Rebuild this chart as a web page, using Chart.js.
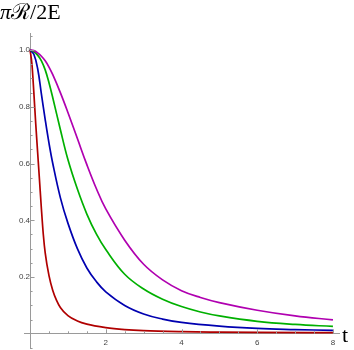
<!DOCTYPE html>
<html>
<head>
<meta charset="utf-8">
<script src="https://cdn.jsdelivr.net/npm/chart.js@4.4.1/dist/chart.umd.min.js"></script>
<style>
  html, body { margin: 0; padding: 0; background: #fff; }
  #wrap { width: 354px; height: 350px; position: relative; }
</style>
</head>
<body>
<div id="wrap"><canvas id="c" width="354" height="350"></canvas></div>
<script>
// ---- data ----
const purpleT = [0, 0.1, 0.2, 0.3, 0.4, 0.5, 0.6, 0.8, 1.0, 1.25, 1.5, 1.75, 2.0, 2.5, 3.0, 3.5, 4.0, 4.5, 5.0, 6.0, 7.0, 8.0];
const purpleV = [1, 0.998, 0.99, 0.978, 0.962, 0.94, 0.913, 0.85, 0.78, 0.688, 0.596, 0.512, 0.44, 0.33, 0.245, 0.19, 0.152, 0.128, 0.11, 0.083, 0.063, 0.049];

const greenT = [0, 0.1, 0.2, 0.3, 0.4, 0.5, 0.6, 0.8, 1.0, 1.25, 1.5, 1.75, 2.0, 2.5, 3.0, 3.5, 4.0, 4.5, 5.0, 6.0, 7.0, 8.0];
const greenV = [1, 0.995, 0.982, 0.962, 0.93, 0.885, 0.832, 0.72, 0.614, 0.51, 0.422, 0.352, 0.297, 0.21, 0.158, 0.122, 0.096, 0.077, 0.063, 0.044, 0.033, 0.026];

const blueT = [0, 0.1, 0.2, 0.3, 0.4, 0.5, 0.6, 0.8, 1.0, 1.25, 1.5, 1.75, 2.0, 2.5, 3.0, 3.5, 4.0, 5.0, 6.0, 7.0, 8.0];
const blueV = [1, 0.985, 0.935, 0.845, 0.755, 0.672, 0.6, 0.48, 0.39, 0.3, 0.232, 0.184, 0.148, 0.1, 0.07, 0.052, 0.04, 0.027, 0.019, 0.015, 0.012];

const redT = [0, 0.05, 0.1, 0.15, 0.2, 0.25, 0.3, 0.35, 0.4, 0.5, 0.6, 0.7, 0.8, 1.0, 1.25, 1.5, 2.0, 2.5, 3.0, 4.0, 5.0, 6.0, 8.0];
const redV = [1, 0.95, 0.85, 0.74, 0.64, 0.54, 0.44, 0.35, 0.285, 0.205, 0.153, 0.118, 0.093, 0.064, 0.045, 0.034, 0.022, 0.015, 0.011, 0.0075, 0.006, 0.005, 0.004];

const xMajorTicks = [2, 4, 6, 8];
const xMinorTicks = [0.5, 1, 1.5, 2.5, 3, 3.5, 4.5, 5, 5.5, 6.5, 7, 7.5];
const yMajorTicks = [0.2, 0.4, 0.6, 0.8, 1.0];
const yMinorTicks = [-0.05, 0.05, 0.1, 0.15, 0.25, 0.3, 0.35, 0.45, 0.5, 0.55, 0.65, 0.7, 0.75, 0.85, 0.9, 0.95, 1.05];

const yTitle = ['π', 'ℛ', '/2E'];
const xTitle = 't';

const AXIS = '#9a9a9a';
function pts(t, v) { return t.map((x, i) => ({ x: x, y: v[i] })); }

const tickPlugin = {
  id: 'mmaTicks',
  afterDraw(chart) {
    const ctx = chart.ctx;
    const xs = chart.scales.x, ys = chart.scales.y;
    const x0 = xs.getPixelForValue(0), y0 = ys.getPixelForValue(0);
    ctx.save();
    ctx.strokeStyle = AXIS;
    ctx.lineWidth = 1;
    ctx.beginPath();
    yMajorTicks.forEach(v => { const p = Math.round(ys.getPixelForValue(v)) + 0.5; ctx.moveTo(x0, p); ctx.lineTo(x0 + 4.5, p); });
    yMinorTicks.forEach(v => { const p = Math.round(ys.getPixelForValue(v)) + 0.5; ctx.moveTo(x0, p); ctx.lineTo(x0 + 2.5, p); });
    xMajorTicks.forEach(v => { const p = Math.round(xs.getPixelForValue(v)) + 0.5; ctx.moveTo(p, y0); ctx.lineTo(p, y0 - 4.5); });
    xMinorTicks.forEach(v => { const p = Math.round(xs.getPixelForValue(v)) + 0.5; ctx.moveTo(p, y0); ctx.lineTo(p, y0 - 2.5); });
    ctx.stroke();

    // axis titles
    ctx.fillStyle = '#000';
    ctx.textBaseline = 'alphabetic';
    ctx.textAlign = 'left';
    let cx = 0;
    const fonts = ['italic 22px "Liberation Serif"', '22px "DejaVu Serif", "Liberation Serif"', '22px "Liberation Serif"'];
    yTitle.forEach((s, i) => { ctx.font = fonts[i]; ctx.fillText(s, cx, 19); cx += ctx.measureText(s).width; });
    ctx.font = '22px "Liberation Serif"';
    ctx.fillText(xTitle, 342, 342);
    ctx.restore();
  }
};

new Chart(document.getElementById('c'), {
  type: 'line',
  data: {
    datasets: [
      { data: pts(purpleT, purpleV), borderColor: '#b000b0', tension: 0.4 },
      { data: pts(greenT, greenV), borderColor: '#00b000', tension: 0.4 },
      { data: pts(blueT, blueV), borderColor: '#0000b0', tension: 0.4 },
      { data: pts(redT, redV), borderColor: '#b00000', cubicInterpolationMode: 'monotone' }
    ].map(d => Object.assign(d, { borderWidth: 1.7, pointRadius: 0, fill: false }))
  },
  options: {
    responsive: false,
    animation: false,
    devicePixelRatio: 1,
    layout: { padding: { left: 24, right: 15, top: 33, bottom: 2 } },
    plugins: { legend: { display: false }, tooltip: { enabled: false } },
    scales: {
      x: {
        type: 'linear', min: -0.16, max: 8.16,
        position: { y: 0 },
        afterFit: s => { s.height = 0; s.paddingLeft = 0; s.paddingRight = 0; },
        afterBuildTicks: s => { s.ticks = xMajorTicks.map(v => ({ value: v })); },
        grid: { drawOnChartArea: false, drawTicks: false },
        border: { display: true, color: AXIS, width: 1 },
        ticks: { font: { family: 'Liberation Sans', size: 8 }, color: '#444', padding: 4, maxRotation: 0, callback: v => String(v) }
      },
      y: {
        type: 'linear', min: -0.05, max: 1.06,
        position: { x: 0 },
        afterFit: s => { s.width = 0; s.paddingTop = 0; s.paddingBottom = 0; },
        afterBuildTicks: s => { s.ticks = yMajorTicks.map(v => ({ value: v })); },
        grid: { drawOnChartArea: false, drawTicks: false },
        border: { display: true, color: AXIS, width: 1 },
        ticks: { font: { family: 'Liberation Sans', size: 8 }, color: '#444', padding: 4, callback: v => v.toFixed(1) }
      }
    }
  },
  plugins: [tickPlugin]
});
</script>
</body>
</html>
